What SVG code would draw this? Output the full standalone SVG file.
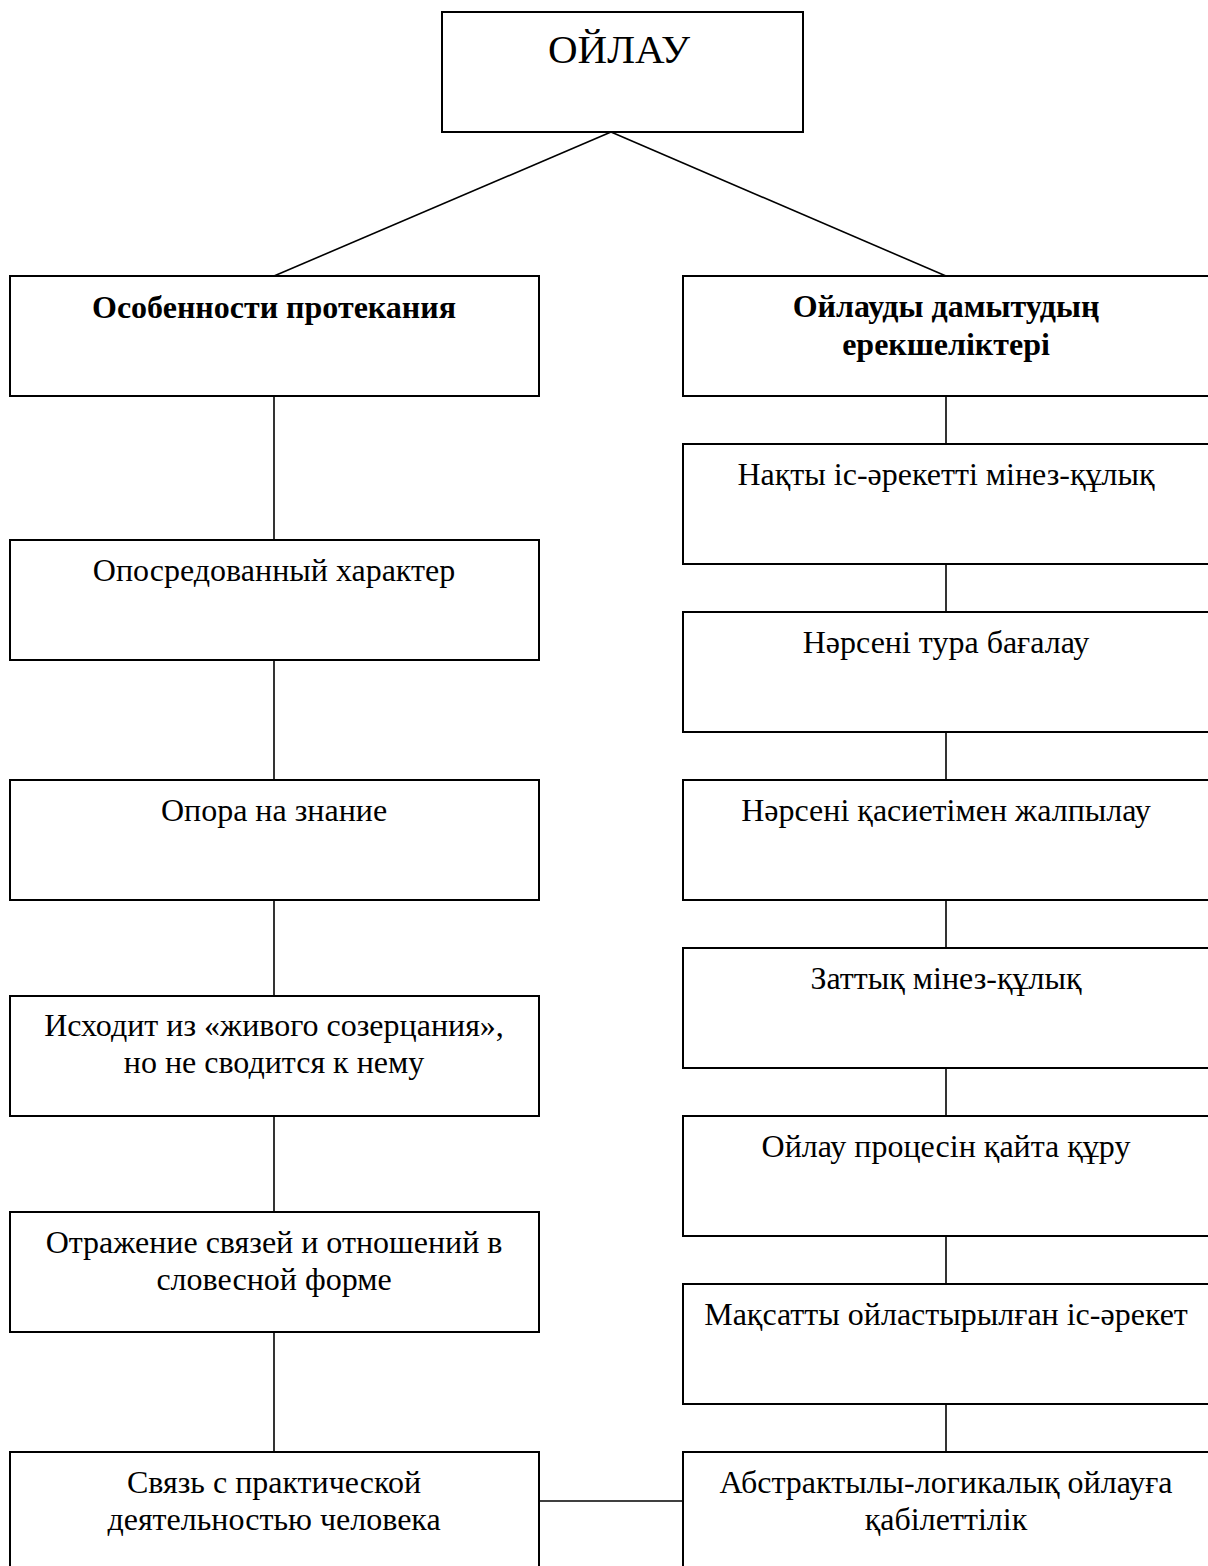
<svg xmlns="http://www.w3.org/2000/svg" width="1208" height="1566" viewBox="0 0 1208 1566">
<style>
.box{fill:#fff;stroke:#000;stroke-width:2}
.t{font-family:"Liberation Serif","Times New Roman",serif;font-size:32px;fill:#000;text-anchor:middle}
.b{font-weight:bold}
.c{stroke:#000;stroke-width:1.6;fill:none}
</style>
<rect width="1208" height="1566" fill="#fff"/>
<g id="connectors">
<line class="c" x1="611" y1="132" x2="274" y2="276"/>
<line class="c" x1="611" y1="132" x2="946" y2="276"/>
<line class="c" x1="274" y1="396" x2="274" y2="540"/>
<line class="c" x1="274" y1="660" x2="274" y2="780"/>
<line class="c" x1="274" y1="900" x2="274" y2="996"/>
<line class="c" x1="274" y1="1116" x2="274" y2="1212"/>
<line class="c" x1="274" y1="1332" x2="274" y2="1452"/>
<line class="c" x1="946" y1="396" x2="946" y2="444"/>
<line class="c" x1="946" y1="564" x2="946" y2="612"/>
<line class="c" x1="946" y1="732" x2="946" y2="780"/>
<line class="c" x1="946" y1="900" x2="946" y2="948"/>
<line class="c" x1="946" y1="1068" x2="946" y2="1116"/>
<line class="c" x1="946" y1="1236" x2="946" y2="1284"/>
<line class="c" x1="946" y1="1404" x2="946" y2="1452"/>
<line class="c" x1="539" y1="1501" x2="683" y2="1501"/>
</g>
<g id="root"><rect class="box" x="442" y="12" width="361" height="120"/><text class="t" x="619" y="63" style="font-size:41px">ОЙЛАУ</text></g>
<g id="left-head"><rect class="box" x="10" y="276" width="529" height="120"/><text class="t b" x="274" y="318">Особенности протекания</text></g>
<g id="l1"><rect class="box" x="10" y="540" width="529" height="120"/><text class="t" x="274" y="581">Опосредованный характер</text></g>
<g id="l2"><rect class="box" x="10" y="780" width="529" height="120"/><text class="t" x="274" y="821">Опора на знание</text></g>
<g id="l3"><rect class="box" x="10" y="996" width="529" height="120"/><text class="t" x="274" y="1036">Исходит из «живого созерцания»,</text><text class="t" x="274" y="1073">но не сводится к нему</text></g>
<g id="l4"><rect class="box" x="10" y="1212" width="529" height="120"/><text class="t" x="274" y="1253">Отражение связей и отношений в</text><text class="t" x="274" y="1290">словесной форме</text></g>
<g id="l5"><rect class="box" x="10" y="1452" width="529" height="130"/><text class="t" x="274" y="1493">Связь с практической</text><text class="t" x="274" y="1530">деятельностью человека</text></g>
<g id="right-head"><rect class="box" x="683" y="276" width="540" height="120"/><text class="t b" x="946" y="317">Ойлауды дамытудың</text><text class="t b" x="946" y="355">ерекшеліктері</text></g>
<g id="r1"><rect class="box" x="683" y="444" width="540" height="120"/><text class="t" x="946" y="485">Нақты іс-әрекетті мінез-құлық</text></g>
<g id="r2"><rect class="box" x="683" y="612" width="540" height="120"/><text class="t" x="946" y="653">Нәрсені тура бағалау</text></g>
<g id="r3"><rect class="box" x="683" y="780" width="540" height="120"/><text class="t" x="946" y="821">Нәрсені қасиетімен жалпылау</text></g>
<g id="r4"><rect class="box" x="683" y="948" width="540" height="120"/><text class="t" x="946" y="989">Заттық мінез-құлық</text></g>
<g id="r5"><rect class="box" x="683" y="1116" width="540" height="120"/><text class="t" x="946" y="1157">Ойлау процесін қайта құру</text></g>
<g id="r6"><rect class="box" x="683" y="1284" width="540" height="120"/><text class="t" x="946" y="1325">Мақсатты ойластырылған іс-әрекет</text></g>
<g id="r7"><rect class="box" x="683" y="1452" width="540" height="130"/><text class="t" x="946" y="1493">Абстрактылы-логикалық ойлауға</text><text class="t" x="946" y="1530">қабілеттілік</text></g>
</svg>
